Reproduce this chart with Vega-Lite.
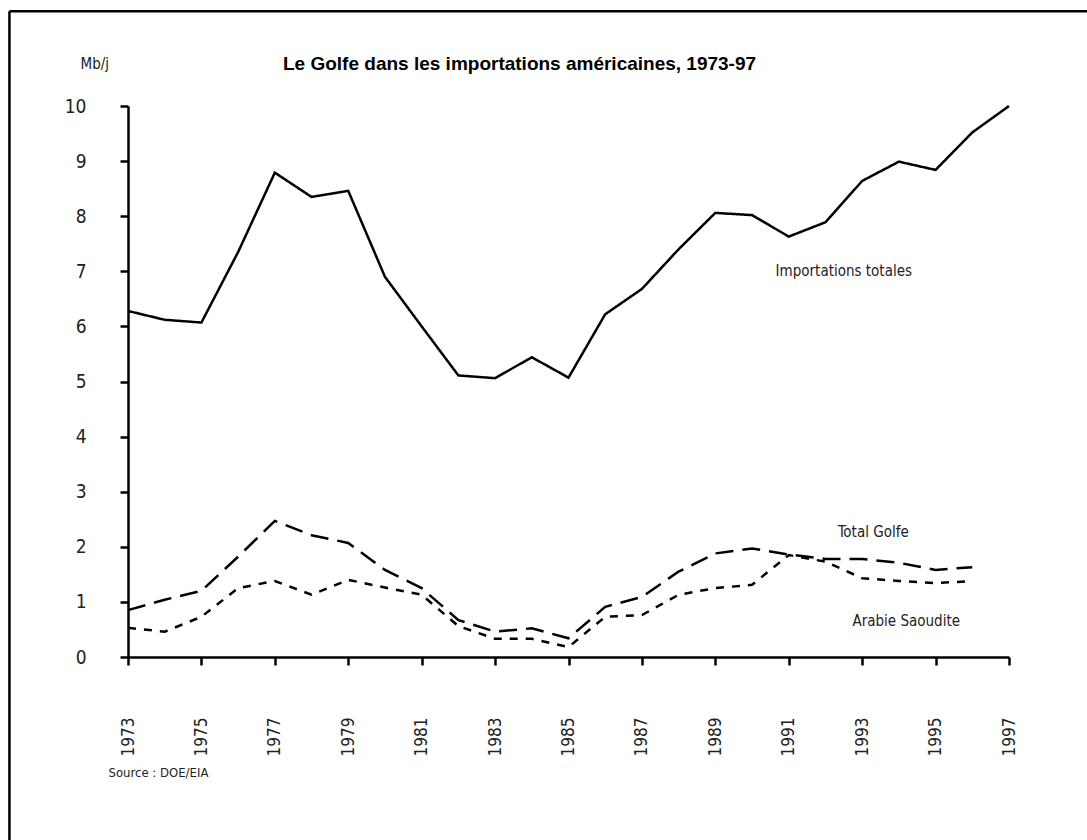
{
  "$schema": "https://vega.github.io/schema/vega-lite/v6.json",
  "width": 881,
  "height": 551,
  "autosize": {"type": "none"},
  "padding": {"left": 128, "top": 106, "right": 78, "bottom": 183},
  "background": "white",
  "config": {
    "view": {"stroke": null},
    "font": "DejaVu Sans Condensed",
    "axis": {
      "grid": false,
      "domainColor": "black",
      "domainWidth": 2.5,
      "tickColor": "black",
      "tickWidth": 2.5,
      "tickSize": 8,
      "labelColor": "#222",
      "labelFont": "DejaVu Sans Condensed",
      "titleFont": "DejaVu Sans Condensed",
      "titleFontWeight": "normal",
      "titleColor": "#222"
    }
  },
  "title": {
    "text": "Le Golfe dans les importations américaines, 1973-97",
    "font": "Liberation Sans",
    "fontSize": 19,
    "fontWeight": "bold",
    "color": "black",
    "anchor": "start",
    "frame": "group",
    "dx": 155,
    "dy": 46,
    "offset": -18
  },
  "datasets": {
    "series": [
      {"year": 1973, "series": "Importations totales", "value": 6.28},
      {"year": 1974, "series": "Importations totales", "value": 6.12},
      {"year": 1975, "series": "Importations totales", "value": 6.07},
      {"year": 1976, "series": "Importations totales", "value": 7.35},
      {"year": 1977, "series": "Importations totales", "value": 8.79},
      {"year": 1978, "series": "Importations totales", "value": 8.35},
      {"year": 1979, "series": "Importations totales", "value": 8.46},
      {"year": 1980, "series": "Importations totales", "value": 6.90},
      {"year": 1981, "series": "Importations totales", "value": 6.00},
      {"year": 1982, "series": "Importations totales", "value": 5.11},
      {"year": 1983, "series": "Importations totales", "value": 5.06},
      {"year": 1984, "series": "Importations totales", "value": 5.44},
      {"year": 1985, "series": "Importations totales", "value": 5.07},
      {"year": 1986, "series": "Importations totales", "value": 6.22},
      {"year": 1987, "series": "Importations totales", "value": 6.68},
      {"year": 1988, "series": "Importations totales", "value": 7.40},
      {"year": 1989, "series": "Importations totales", "value": 8.06},
      {"year": 1990, "series": "Importations totales", "value": 8.02},
      {"year": 1991, "series": "Importations totales", "value": 7.63},
      {"year": 1992, "series": "Importations totales", "value": 7.89},
      {"year": 1993, "series": "Importations totales", "value": 8.64},
      {"year": 1994, "series": "Importations totales", "value": 8.99},
      {"year": 1995, "series": "Importations totales", "value": 8.84},
      {"year": 1996, "series": "Importations totales", "value": 9.52},
      {"year": 1997, "series": "Importations totales", "value": 10.0},
      {"year": 1973, "series": "Total Golfe", "value": 0.85},
      {"year": 1974, "series": "Total Golfe", "value": 1.04},
      {"year": 1975, "series": "Total Golfe", "value": 1.20},
      {"year": 1976, "series": "Total Golfe", "value": 1.82},
      {"year": 1977, "series": "Total Golfe", "value": 2.47},
      {"year": 1978, "series": "Total Golfe", "value": 2.21},
      {"year": 1979, "series": "Total Golfe", "value": 2.07},
      {"year": 1980, "series": "Total Golfe", "value": 1.58},
      {"year": 1981, "series": "Total Golfe", "value": 1.25},
      {"year": 1982, "series": "Total Golfe", "value": 0.67},
      {"year": 1983, "series": "Total Golfe", "value": 0.46},
      {"year": 1984, "series": "Total Golfe", "value": 0.52},
      {"year": 1985, "series": "Total Golfe", "value": 0.34},
      {"year": 1986, "series": "Total Golfe", "value": 0.91},
      {"year": 1987, "series": "Total Golfe", "value": 1.09},
      {"year": 1988, "series": "Total Golfe", "value": 1.55},
      {"year": 1989, "series": "Total Golfe", "value": 1.88},
      {"year": 1990, "series": "Total Golfe", "value": 1.97},
      {"year": 1991, "series": "Total Golfe", "value": 1.86},
      {"year": 1992, "series": "Total Golfe", "value": 1.78},
      {"year": 1993, "series": "Total Golfe", "value": 1.78},
      {"year": 1994, "series": "Total Golfe", "value": 1.71},
      {"year": 1995, "series": "Total Golfe", "value": 1.58},
      {"year": 1996, "series": "Total Golfe", "value": 1.63},
      {"year": 1973, "series": "Arabie Saoudite", "value": 0.53},
      {"year": 1974, "series": "Arabie Saoudite", "value": 0.46},
      {"year": 1975, "series": "Arabie Saoudite", "value": 0.73},
      {"year": 1976, "series": "Arabie Saoudite", "value": 1.25},
      {"year": 1977, "series": "Arabie Saoudite", "value": 1.38},
      {"year": 1978, "series": "Arabie Saoudite", "value": 1.13},
      {"year": 1979, "series": "Arabie Saoudite", "value": 1.40},
      {"year": 1980, "series": "Arabie Saoudite", "value": 1.26},
      {"year": 1981, "series": "Arabie Saoudite", "value": 1.13},
      {"year": 1982, "series": "Arabie Saoudite", "value": 0.56},
      {"year": 1983, "series": "Arabie Saoudite", "value": 0.33},
      {"year": 1984, "series": "Arabie Saoudite", "value": 0.33},
      {"year": 1985, "series": "Arabie Saoudite", "value": 0.18},
      {"year": 1986, "series": "Arabie Saoudite", "value": 0.73},
      {"year": 1987, "series": "Arabie Saoudite", "value": 0.76},
      {"year": 1988, "series": "Arabie Saoudite", "value": 1.13},
      {"year": 1989, "series": "Arabie Saoudite", "value": 1.25},
      {"year": 1990, "series": "Arabie Saoudite", "value": 1.31},
      {"year": 1991, "series": "Arabie Saoudite", "value": 1.85},
      {"year": 1992, "series": "Arabie Saoudite", "value": 1.73},
      {"year": 1993, "series": "Arabie Saoudite", "value": 1.43},
      {"year": 1994, "series": "Arabie Saoudite", "value": 1.38},
      {"year": 1995, "series": "Arabie Saoudite", "value": 1.34},
      {"year": 1996, "series": "Arabie Saoudite", "value": 1.38}
    ],
    "one": [{}]
  },
  "layer": [
    {
      "data": {"name": "series"},
      "mark": {"type": "line", "color": "black", "strokeWidth": 2.5, "strokeJoin": "miter", "clip": false},
      "encoding": {
        "x": {
          "field": "year",
          "type": "quantitative",
          "scale": {"domain": [1973, 1997], "nice": false, "zero": false},
          "axis": {
            "values": [1973, 1974, 1975, 1976, 1977, 1978, 1979, 1980, 1981, 1982, 1983, 1984, 1985, 1986, 1987, 1988, 1989, 1990, 1991, 1992, 1993, 1994, 1995, 1996, 1997],
            "format": "d",
            "labelExpr": "datum.value % 2 == 1 ? datum.label : ''",
            "labelAngle": -90,
            "labelFontSize": 17,
            "labelPadding": 52,
            "labelOverlap": false,
            "labelFlush": false,
            "title": "Source : DOE/EIA",
            "titleFontSize": 13,
            "titleAnchor": "start",
            "titleAlign": "left",
            "titleBaseline": "middle",
            "titleX": -20,
            "titleY": 115
          }
        },
        "y": {
          "field": "value",
          "type": "quantitative",
          "scale": {"domain": [0, 10], "nice": false},
          "axis": {
            "values": [0, 1, 2, 3, 4, 5, 6, 7, 8, 9, 10],
            "labelFontSize": 19,
            "labelPadding": 34,
            "labelFlush": false,
            "title": "Mb/j",
            "titleFontSize": 15,
            "titleAngle": 0,
            "titleAlign": "left",
            "titleBaseline": "middle",
            "titleX": -48,
            "titleY": -43
          }
        },
        "strokeDash": {
          "field": "series",
          "type": "nominal",
          "scale": {"domain": ["Importations totales", "Total Golfe", "Arabie Saoudite"], "range": [[1, 0], [18, 9], [8, 8]]},
          "legend": null
        }
      }
    },
    {
      "data": {"name": "one"},
      "mark": {"type": "text", "fontSize": 15, "color": "#222", "font": "DejaVu Sans Condensed", "align": "center", "baseline": "middle"},
      "encoding": {"x": {"datum": 1992.5}, "y": {"datum": 7.0}, "text": {"value": "Importations totales"}}
    },
    {
      "data": {"name": "one"},
      "mark": {"type": "text", "fontSize": 15, "color": "#222", "font": "DejaVu Sans Condensed", "align": "center", "baseline": "middle"},
      "encoding": {"x": {"datum": 1993.3}, "y": {"datum": 2.27}, "text": {"value": "Total Golfe"}}
    },
    {
      "data": {"name": "one"},
      "mark": {"type": "text", "fontSize": 15, "color": "#222", "font": "DejaVu Sans Condensed", "align": "center", "baseline": "middle"},
      "encoding": {"x": {"datum": 1994.2}, "y": {"datum": 0.65}, "text": {"value": "Arabie Saoudite"}}
    },
    {
      "data": {"name": "one"},
      "mark": {"type": "rule", "color": "black", "strokeWidth": 2.5, "clip": false},
      "encoding": {"x": {"datum": 1969.77}, "y": {"datum": 11.72}, "y2": {"datum": -5}}
    },
    {
      "data": {"name": "one"},
      "mark": {"type": "rule", "color": "black", "strokeWidth": 2.5, "clip": false},
      "encoding": {"y": {"datum": 11.72}, "x": {"datum": 1969.77}, "x2": {"datum": 2005}}
    }
  ]
}
